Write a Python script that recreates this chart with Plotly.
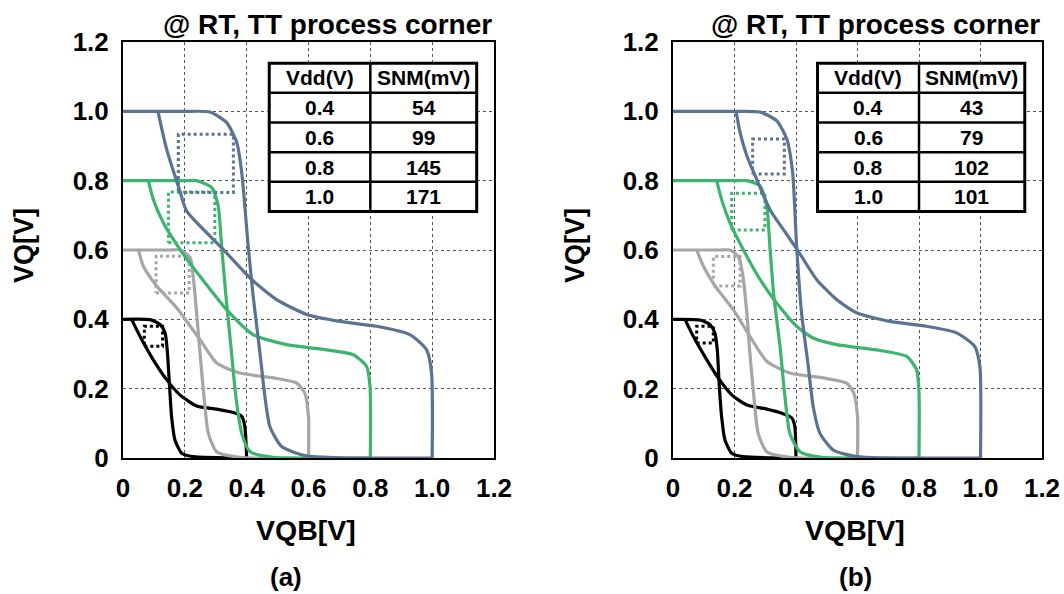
import plotly.graph_objects as go

# ---------------- data ----------------
VDD = ["0.4", "0.6", "0.8", "1.0"]
SNM_A = ["54", "99", "145", "171"]
SNM_B = ["43", "79", "102", "101"]
TICKS = [0, 0.2, 0.4, 0.6, 0.8, 1.0, 1.2]
TICK_TEXT = ["0", "0.2", "0.4", "0.6", "0.8", "1.0", "1.2"]

# panel (a): VQ = f(VQB) curves (f) and mirrored curves (g)
a04_f_x = [0, 0.087, 0.12, 0.136, 0.143, 0.15, 0.157, 0.168, 0.19, 0.227, 0.4]
a04_f_y = [0.4, 0.399, 0.385, 0.361, 0.312, 0.216, 0.12, 0.052, 0.014, 0.004, 0]
a04_g_x = [0.028, 0.055, 0.098, 0.141, 0.184, 0.238, 0.303, 0.357, 0.384, 0.394, 0.4]
a04_g_y = [0.4, 0.351, 0.283, 0.226, 0.182, 0.150, 0.141, 0.131, 0.12, 0.091, 0]
a06_f_x = [0, 0.15, 0.184, 0.217, 0.227, 0.238, 0.249, 0.262, 0.276, 0.303, 0.378, 0.6]
a06_f_y = [0.6, 0.6, 0.6, 0.578, 0.524, 0.419, 0.303, 0.177, 0.071, 0.018, 0.002, 0]
a06_g_x = [0.050, 0.066, 0.109, 0.174, 0.249, 0.303, 0.378, 0.486, 0.562, 0.588, 0.6, 0.6]
a06_g_y = [0.6, 0.553, 0.496, 0.433, 0.341, 0.274, 0.245, 0.231, 0.216, 0.187, 0.118, 0]
a08_f_x = [0, 0.20, 0.238, 0.287, 0.308, 0.319, 0.333, 0.349, 0.365, 0.384, 0.411, 0.486, 0.8]
a08_f_y = [0.8, 0.8, 0.80, 0.780, 0.727, 0.611, 0.467, 0.322, 0.177, 0.071, 0.018, 0.002, 0]
a08_g_x = [0.082, 0.098, 0.130, 0.184, 0.249, 0.335, 0.421, 0.529, 0.659, 0.745, 0.788, 0.799, 0.8]
a08_g_y = [0.8, 0.746, 0.679, 0.602, 0.524, 0.428, 0.356, 0.327, 0.312, 0.298, 0.264, 0.206, 0]
a10_f_x = [0, 0.2, 0.281, 0.335, 0.368, 0.384, 0.405, 0.421, 0.443, 0.459, 0.475, 0.513, 0.594, 1.0]
a10_f_y = [1.0, 1.0, 0.998, 0.968, 0.910, 0.824, 0.611, 0.467, 0.303, 0.177, 0.091, 0.033, 0.006, 0]
a10_g_x = [0.113, 0.141, 0.184, 0.206, 0.324, 0.416, 0.497, 0.594, 0.702, 0.820, 0.928, 0.982, 0.998, 1.0]
a10_g_y = [1.0, 0.891, 0.770, 0.712, 0.602, 0.515, 0.457, 0.414, 0.394, 0.380, 0.356, 0.312, 0.246, 0]

# panel (b)
b04_f_x = [0, 0.088, 0.12, 0.136, 0.144, 0.15, 0.158, 0.169, 0.191, 0.228, 0.4]
b04_f_y = [0.4, 0.398, 0.385, 0.361, 0.312, 0.216, 0.12, 0.052, 0.014, 0.004, 0]
b04_g_x = [0.039, 0.066, 0.11, 0.147, 0.191, 0.24, 0.305, 0.358, 0.386, 0.396, 0.4]
b04_g_y = [0.4, 0.351, 0.283, 0.231, 0.182, 0.153, 0.141, 0.128, 0.116, 0.091, 0]
b06_f_x = [0, 0.15, 0.185, 0.212, 0.226, 0.24, 0.25, 0.263, 0.277, 0.305, 0.38, 0.6]
b06_f_y = [0.6, 0.6, 0.6, 0.582, 0.534, 0.419, 0.303, 0.177, 0.071, 0.018, 0.002, 0]
b06_g_x = [0.077, 0.099, 0.137, 0.196, 0.25, 0.305, 0.38, 0.489, 0.565, 0.588, 0.6, 0.6]
b06_g_y = [0.6, 0.553, 0.496, 0.428, 0.351, 0.279, 0.245, 0.231, 0.216, 0.187, 0.118, 0]
b08_f_x = [0, 0.2, 0.24, 0.283, 0.305, 0.315, 0.328, 0.348, 0.364, 0.38, 0.413, 0.484, 0.8]
b08_f_y = [0.8, 0.8, 0.8, 0.785, 0.727, 0.611, 0.467, 0.322, 0.177, 0.071, 0.018, 0.002, 0]
b08_g_x = [0.142, 0.158, 0.185, 0.228, 0.283, 0.337, 0.402, 0.456, 0.532, 0.662, 0.76, 0.792, 0.8, 0.8]
b08_g_y = [0.8, 0.746, 0.679, 0.602, 0.515, 0.447, 0.38, 0.346, 0.327, 0.312, 0.293, 0.255, 0.19, 0]
b10_f_x = [0, 0.2, 0.283, 0.337, 0.37, 0.389, 0.402, 0.418, 0.44, 0.456, 0.478, 0.521, 0.597, 1.0]
b10_f_y = [1.0, 1.0, 0.998, 0.973, 0.92, 0.824, 0.611, 0.419, 0.264, 0.148, 0.071, 0.023, 0.004, 0]
b10_g_x = [0.205, 0.218, 0.24, 0.272, 0.315, 0.358, 0.407, 0.467, 0.532, 0.597, 0.705, 0.824, 0.922, 0.981, 0.998, 1.0]
b10_g_y = [1.0, 0.939, 0.872, 0.804, 0.717, 0.66, 0.597, 0.515, 0.457, 0.419, 0.394, 0.38, 0.361, 0.322, 0.264, 0]

# SNM squares (order: Vdd 0.4, 0.6, 0.8, 1.0)
sq_a_x0 = [0.069, 0.107, 0.147, 0.179]
sq_a_x1 = [0.128, 0.214, 0.297, 0.357]
sq_a_y0 = [0.322, 0.476, 0.621, 0.766]
sq_a_y1 = [0.380, 0.582, 0.767, 0.934]
sq_b_x0 = [0.077, 0.131, 0.191, 0.259]
sq_b_x1 = [0.131, 0.218, 0.299, 0.362]
sq_b_y0 = [0.332, 0.496, 0.658, 0.819]
sq_b_y1 = [0.380, 0.581, 0.764, 0.920]

COLORS = ["#000000", "#a6a6a6", "#3cb46e", "#5a7391"]
FONT = "Liberation Sans, Arial, sans-serif"

fig = go.Figure()

panels = [
    ("x", "y", [(a04_f_x, a04_f_y, a04_g_x, a04_g_y), (a06_f_x, a06_f_y, a06_g_x, a06_g_y),
                (a08_f_x, a08_f_y, a08_g_x, a08_g_y), (a10_f_x, a10_f_y, a10_g_x, a10_g_y)],
     (sq_a_x0, sq_a_x1, sq_a_y0, sq_a_y1)),
    ("x2", "y2", [(b04_f_x, b04_f_y, b04_g_x, b04_g_y), (b06_f_x, b06_f_y, b06_g_x, b06_g_y),
                  (b08_f_x, b08_f_y, b08_g_x, b08_g_y), (b10_f_x, b10_f_y, b10_g_x, b10_g_y)],
     (sq_b_x0, sq_b_x1, sq_b_y0, sq_b_y1)),
]

for xa, ya, curves, sq in panels:
    x0s, x1s, y0s, y1s = sq
    for i, (fx, fy, gx, gy) in enumerate(curves):
        c = COLORS[i]
        for xs, ys in ((fx, fy), (gx, gy)):
            fig.add_trace(go.Scatter(x=xs, y=ys, mode="lines", xaxis=xa, yaxis=ya,
                                     line=dict(color=c, width=3.2, shape="spline", smoothing=0.6),
                                     showlegend=False, hoverinfo="skip"))
        rx = [x0s[i], x1s[i], x1s[i], x0s[i], x0s[i]]
        ry = [y0s[i], y0s[i], y1s[i], y1s[i], y0s[i]]
        fig.add_trace(go.Scatter(x=rx, y=ry, mode="lines", xaxis=xa, yaxis=ya,
                                 line=dict(color=c, width=3, dash="dot"),
                                 showlegend=False, hoverinfo="skip"))

axis_common = dict(range=[0, 1.2], tickvals=TICKS, ticktext=TICK_TEXT,
                   showgrid=True, gridcolor="#555555", griddash="dot", gridwidth=1,
                   showline=True, linecolor="black", linewidth=2, mirror=True,
                   zeroline=False, ticks="", automargin=False,
                   tickfont=dict(family=FONT, size=26, color="black", weight="bold"))

fig.update_layout(
    width=1064, height=594,
    margin=dict(l=0, r=0, t=0, b=0),
    paper_bgcolor="white", plot_bgcolor="white",
    xaxis=dict(domain=[123 / 1064, 494 / 1064], anchor="y", ticklabelstandoff=6, **axis_common),
    yaxis=dict(domain=[1 - 458 / 594, 1 - 42 / 594], anchor="x", ticklabelstandoff=7, **axis_common),
    xaxis2=dict(domain=[673 / 1064, 1042 / 1064], anchor="y2", ticklabelstandoff=6, **axis_common),
    yaxis2=dict(domain=[1 - 458 / 594, 1 - 42 / 594], anchor="x2", ticklabelstandoff=7, **axis_common),
)

shapes = []
annotations = []

def add_table(xr, yr, xl, xm, xrt, vals):
    top = 1.139
    step = 0.0856
    bottom = top - 5 * step
    shapes.append(dict(type="rect", xref=xr, yref=yr, x0=xl, x1=xrt, y0=bottom, y1=top,
                       fillcolor="white", line=dict(color="black", width=3), layer="above"))
    for k in range(1, 5):
        yy = top - k * step
        shapes.append(dict(type="line", xref=xr, yref=yr, x0=xl, x1=xrt, y0=yy, y1=yy,
                           line=dict(color="black", width=2.5), layer="above"))
    shapes.append(dict(type="line", xref=xr, yref=yr, x0=xm, x1=xm, y0=bottom, y1=top,
                       line=dict(color="black", width=2.5), layer="above"))
    rows = [("Vdd(V)", "SNM(mV)")] + list(zip(VDD, vals))
    for k, (t1, t2) in enumerate(rows):
        yc = top - (k + 0.5) * step
        for xc, t in (((xl + xm) / 2, t1), ((xm + xrt) / 2, t2)):
            annotations.append(dict(xref=xr, yref=yr, x=xc, y=yc, text="<b>%s</b>" % t,
                                    showarrow=False, xanchor="center", yanchor="middle",
                                    font=dict(family=FONT, size=21, color="black")))

add_table("x", "y", 0.473, 0.80, 1.144, SNM_A)
add_table("x2", "y2", 0.470, 0.80, 1.144, SNM_B)

def txt(x, y, t, size, angle=0, xanchor="center"):
    annotations.append(dict(xref="paper", yref="paper", x=x / 1064, y=1 - y / 594,
                            text="<b>%s</b>" % t, showarrow=False, textangle=angle,
                            xanchor=xanchor, yanchor="middle",
                            font=dict(family=FONT, size=size, color="black")))

txt(494, 24, "@ RT, TT process corner", 28, xanchor="right")
txt(1042, 24, "@ RT, TT process corner", 28, xanchor="right")
txt(24, 246, "VQ[V]", 27, angle=-90)
txt(575, 246, "VQ[V]", 27, angle=-90)
txt(306, 530, "VQB[V]", 28.5)
txt(855, 530, "VQB[V]", 28.5)
txt(286, 577, "(a)", 26)
txt(855, 577, "(b)", 26)

fig.update_layout(shapes=shapes, annotations=annotations)
fig.write_html("out.html", config={"displayModeBar": False},
               post_script="document.body.style.margin='0';document.body.style.overflow='hidden';")
